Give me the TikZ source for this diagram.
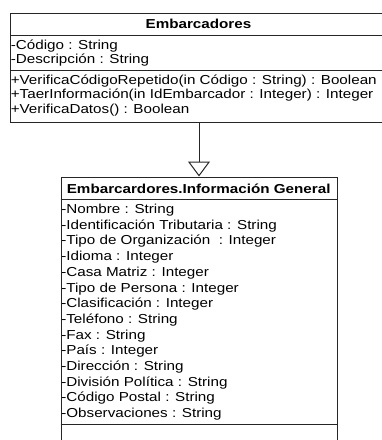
\documentclass[tikz,border=0pt]{standalone}
\usepackage{fontspec}
\setmainfont{Liberation Sans}[FakeStretch=1.17]
\usetikzlibrary{arrows.meta}
\begin{document}
\begin{tikzpicture}[x=1pt,y=-1pt,
  box/.style={draw=black!85, line width=1pt, inner sep=0pt, fill=white},
  sep/.style={draw=black!85, line width=1pt},
  attr/.style={anchor=base west, inner sep=0pt, font=\fontsize{13}{14}\selectfont},
  title/.style={anchor=base, inner sep=0pt, font=\fontsize{13}{14}\selectfont\bfseries},
  gen/.style={draw=black!85, line width=1pt, -{Triangle[open, width=22pt, length=15pt]}}]
\useasboundingbox[fill=white] (0,0) rectangle (381,440);

% class Embarcadores
\node[box, anchor=north west, minimum width=390pt, minimum height=109pt] (emb) at (10,13) {};
\draw[sep] (10,35) -- (400,35);
\draw[sep] (10,70.5) -- (400,70.5);
\node[title] (embt) at (198.5,28.5) {Embarcadores};
\node[attr] (e1) at (10.6,49) {-Código : String};
\node[attr] (e2) at (10.6,63) {-Descripción : String};
\node[attr] (m1) at (10.6,84) {+VerificaCódigoRepetido(in Código : String) : Boolean};
\node[attr] (m2) at (10.6,98.5) {+TaerInformación(in IdEmbarcador : Integer) : Integer};
\node[attr] (m3) at (10.6,113) {+VerificaDatos() : Boolean};

% class Embarcardores.Información General
\node[box, anchor=north west, minimum width=276.5pt, minimum height=290pt] (info) at (60.5,176.5) {};
\draw[sep] (60.5,199.5) -- (337,199.5);
\draw[sep] (60.5,424.5) -- (337,424.5);
\node[title] (infot) at (198.7,193.5) {Embarcardores.Información General};
\foreach \t [count=\i from 0] in {%
  -Nombre : String,
  -Identificación Tributaria : String,
  -Tipo de Organización\ \ : Integer,
  -Idioma : Integer,
  -Casa Matriz : Integer,
  -Tipo de Persona : Integer,
  -Clasificación : Integer,
  -Teléfono : String,
  -Fax : String,
  -País : Integer,
  -Dirección : String,
  -División Política : String,
  -Código Postal : String,
  -Observaciones : String}
  \node[attr] (a\i) at (61.1,213.5+\i*15.7) {\t};

% generalization
\coordinate (gtop) at (199,122);
\draw[gen] (gtop) -- (gtop |- info.north);
\end{tikzpicture}
\end{document}
